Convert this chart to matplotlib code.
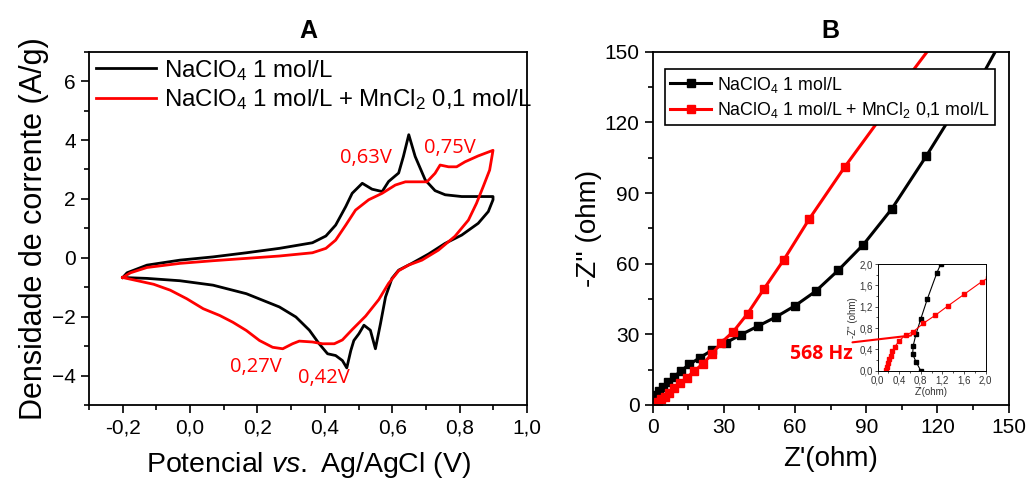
import matplotlib
matplotlib.use("Agg")
import matplotlib.pyplot as plt
from matplotlib.patches import ConnectionPatch
from matplotlib.ticker import MultipleLocator, FuncFormatter

plt.rcParams["font.family"] = ["Liberation Sans", "DejaVu Sans"]
plt.rcParams["mathtext.fontset"] = "custom"
plt.rcParams["mathtext.rm"] = "Liberation Sans"
plt.rcParams["mathtext.it"] = "Liberation Sans:italic"

# ---- panel A: cyclic voltammetry (potential V, current A/g)
cv_black_x = [-0.200, -0.187, -0.128, -0.030, 0.068, 0.167, 0.265, 0.363, 0.403, 0.432, 0.462,
              0.481, 0.511, 0.540, 0.570, 0.589, 0.619, 0.633, 0.649, 0.668, 0.698, 0.727,
              0.757, 0.806, 0.899, 0.899, 0.885, 0.855, 0.806, 0.757, 0.708, 0.658, 0.619,
              0.599, 0.580, 0.565, 0.550, 0.535, 0.516, 0.501, 0.486, 0.477, 0.465, 0.452,
              0.432, 0.408, 0.383, 0.354, 0.314, 0.265, 0.167, 0.068, -0.030, -0.128, -0.200]
cv_black_y = [-0.67, -0.51, -0.25, -0.08, 0.03, 0.17, 0.32, 0.51, 0.74, 1.11, 1.74,
              2.19, 2.53, 2.33, 2.25, 2.59, 2.88, 3.44, 4.18, 3.44, 2.64, 2.28,
              2.14, 2.08, 2.08, 1.97, 1.57, 1.17, 0.77, 0.49, 0.13, -0.19, -0.42,
              -0.70, -1.33, -2.24, -3.09, -2.46, -2.29, -2.58, -2.81, -3.15, -3.74, -3.49,
              -3.32, -3.26, -2.92, -2.46, -2.01, -1.67, -1.22, -0.93, -0.78, -0.70, -0.67]
cv_red_x = [-0.200, -0.177, -0.128, -0.030, 0.068, 0.167, 0.265, 0.363, 0.403, 0.432, 0.462,
            0.491, 0.530, 0.570, 0.609, 0.639, 0.668, 0.703, 0.727, 0.742, 0.767, 0.791,
            0.816, 0.855, 0.899, 0.889, 0.870, 0.850, 0.826, 0.786, 0.737, 0.688, 0.648,
            0.619, 0.589, 0.560, 0.521, 0.481, 0.452, 0.428, 0.393, 0.363, 0.324, 0.304,
            0.275, 0.245, 0.206, 0.167, 0.127, 0.088, 0.039, -0.010, -0.059, -0.108, -0.200]
cv_red_y = [-0.67, -0.51, -0.33, -0.19, -0.10, -0.02, 0.06, 0.17, 0.32, 0.60, 1.11,
            1.62, 1.97, 2.19, 2.47, 2.58, 2.58, 2.58, 2.87, 3.15, 3.09, 3.09,
            3.26, 3.46, 3.65, 2.98, 2.42, 1.85, 1.28, 0.73, 0.26, -0.08, -0.25,
            -0.44, -0.87, -1.42, -1.98, -2.44, -2.79, -2.92, -2.92, -2.86, -2.83, -2.92,
            -3.09, -3.04, -2.81, -2.47, -2.19, -1.96, -1.73, -1.39, -1.10, -0.90, -0.67]
cv_peaks = ["0,63V", "0,75V", "0,27V", "0,42V"]
cv_peak_x = [0.522, 0.77, 0.195, 0.396]
cv_peak_y = [3.4, 3.73, -3.72, -4.07]

# ---- panel B: Nyquist plot (ohm)
eis_black_x = [0.0, 0.56, 1.4, 2.8, 4.5, 6.6, 9.0, 11.8, 15.4, 19.9, 24.9, 30.8, 37.1,
               44.4, 52.0, 60.1, 68.7, 78.2, 88.8, 100.8, 115.2, 123.9, 135.1, 146.3]
eis_black_y = [1.0, 2.4, 4.1, 5.9, 7.8, 9.7, 12.0, 14.4, 17.2, 20.1, 23.2, 26.4, 29.8,
               33.5, 37.4, 42.2, 48.3, 57.2, 68.1, 83.3, 105.5, 119.6, 133.0, 153.5]
eis_red_x = [1.4, 2.4, 3.7, 5.2, 7.0, 9.1, 11.5, 14.3, 17.6, 21.1, 24.9, 28.8, 34.0,
             40.0, 46.9, 55.3, 66.0, 80.9, 94.4, 101.4, 118.3]
eis_red_y = [0.4, 1.3, 2.4, 3.5, 5.2, 7.1, 9.2, 11.6, 14.4, 17.5, 21.5, 26.4, 31.2,
             38.8, 49.3, 61.7, 79.0, 101.0, 119.6, 130.9, 153.5]
n_black_marks = 21   # points after these only carry the line
n_red_marks = 18

# inset (high frequency zoom)
ins_black_x = [0.80, 0.71, 0.65, 0.66, 0.71, 0.80, 0.92, 1.10, 1.17]
ins_black_y = [0.00, 0.17, 0.31, 0.47, 0.68, 0.97, 1.34, 1.84, 2.00]
ins_red_x = [0.15, 0.17, 0.19, 0.22, 0.24, 0.27, 0.32, 0.40, 0.52, 0.66, 0.85, 1.07,
             1.31, 1.60, 1.93, 2.05]
ins_red_y = [0.01, 0.075, 0.14, 0.21, 0.275, 0.36, 0.45, 0.56, 0.67, 0.73, 0.89, 1.04,
             1.22, 1.43, 1.67, 1.74]

lab1 = "NaClO$_4$ 1 mol/L"
lab2 = "NaClO$_4$ 1 mol/L + MnCl$_2$ 0,1 mol/L"
comma = FuncFormatter(lambda v, p: ("%.1f" % v).replace(".", ","))

fig = plt.figure(figsize=(10.3, 4.83), dpi=100)
axA = fig.add_axes([0.0864, 0.1615, 0.4253, 0.7315])
axB = fig.add_axes([0.6337, 0.1615, 0.3455, 0.7315])

# ---------- A
axA.plot(cv_black_x, cv_black_y, color="black", lw=2, label=lab1)
axA.plot(cv_red_x, cv_red_y, color="red", lw=2, label=lab2)
for t, x, y in zip(cv_peaks, cv_peak_x, cv_peak_y):
    axA.text(x, y, t, color="red", fontsize=14.5, ha="center", va="center", family="Open Sans")
axA.set_xlim(-0.3, 1.0)
axA.set_ylim(-5, 7)
axA.xaxis.set_major_locator(MultipleLocator(0.2))
axA.xaxis.set_minor_locator(MultipleLocator(0.1))
axA.yaxis.set_major_locator(MultipleLocator(2))
axA.yaxis.set_minor_locator(MultipleLocator(1))
axA.xaxis.set_major_formatter(comma)
axA.set_xlabel("Potencial $\\it{vs.}$ Ag/AgCl (V)", fontsize=20.5, labelpad=9)
axA.set_ylabel("Densidade de corrente (A/g)", fontsize=22, labelpad=2)
axA.set_title("A", fontsize=18, fontweight="bold", pad=10)
axA.legend(loc="upper left", bbox_to_anchor=(-0.005, 1.01), frameon=False, fontsize=17.3,
           handlelength=2.5, borderaxespad=0, handletextpad=0.3, labelspacing=0.2)

# ---------- B
axB.plot(eis_black_x, eis_black_y, color="black", lw=2.2)
axB.plot(eis_black_x[:n_black_marks], eis_black_y[:n_black_marks], "s", color="black", ms=6)
axB.plot(eis_red_x, eis_red_y, color="red", lw=2.2)
axB.plot(eis_red_x[:n_red_marks], eis_red_y[:n_red_marks], "s", color="red", ms=6)
axB.plot([], [], "-s", color="black", lw=2.2, ms=6, label=lab1)
axB.plot([], [], "-s", color="red", lw=2.2, ms=6, label=lab2)
axB.set_xlim(0, 150)
axB.set_ylim(0, 150)
axB.xaxis.set_major_locator(MultipleLocator(30))
axB.xaxis.set_minor_locator(MultipleLocator(15))
axB.yaxis.set_major_locator(MultipleLocator(30))
axB.yaxis.set_minor_locator(MultipleLocator(15))
axB.set_xlabel("Z'(ohm)", fontsize=20, labelpad=6)
axB.set_ylabel("-Z'' (ohm)", fontsize=20, labelpad=2)
axB.set_title("B", fontsize=18, fontweight="bold", pad=10)
leg = axB.legend(loc="upper left", bbox_to_anchor=(0.035, 0.95), fontsize=12.8, fancybox=False,
                 edgecolor="black", framealpha=1, handlelength=2.3, borderaxespad=0,
                 handletextpad=0.3, labelspacing=0.3, borderpad=0.3)
leg.get_frame().set_linewidth(1.2)
axB.text(71, 21.5, "568 Hz", color="red", fontsize=14, fontweight="bold",
         family="Open Sans", ha="center", va="center")

for ax in (axA, axB):
    ax.tick_params(which="both", direction="out", labelsize=15, width=1.2)
    ax.tick_params(which="major", length=6)
    ax.tick_params(which="minor", length=3.5)
    for s in ax.spines.values():
        s.set_linewidth(1.3)

# ---------- inset
axI = fig.add_axes([0.852, 0.2325, 0.1049, 0.2209])
axI.plot(ins_black_x, ins_black_y, "-s", color="black", lw=0.8, ms=2.5)
axI.plot(ins_red_x, ins_red_y, "-s", color="red", lw=0.8, ms=2.5)
axI.set_xlim(0, 2)
axI.set_ylim(0, 2)
axI.xaxis.set_major_locator(MultipleLocator(0.4))
axI.xaxis.set_minor_locator(MultipleLocator(0.2))
axI.yaxis.set_major_locator(MultipleLocator(0.4))
axI.yaxis.set_minor_locator(MultipleLocator(0.2))
axI.xaxis.set_major_formatter(comma)
axI.yaxis.set_major_formatter(comma)
axI.tick_params(which="both", direction="out", labelsize=7, width=0.6, colors="#333333",
                pad=1)
axI.tick_params(which="major", length=2.5)
axI.tick_params(which="minor", length=1.5)
axI.set_xlabel("Z'(ohm)", fontsize=7, labelpad=1, color="#333333")
axI.set_ylabel("-Z'' (ohm)", fontsize=7, labelpad=1, color="#333333")
for s in axI.spines.values():
    s.set_linewidth(0.7)

con = ConnectionPatch(xyA=(84.2, 26.6), coordsA=axB.transData,
                      xyB=(0.62, 0.66), coordsB=axI.transData, color="red", lw=1.5)
fig.add_artist(con)

fig.savefig("out.png", dpi=100)
